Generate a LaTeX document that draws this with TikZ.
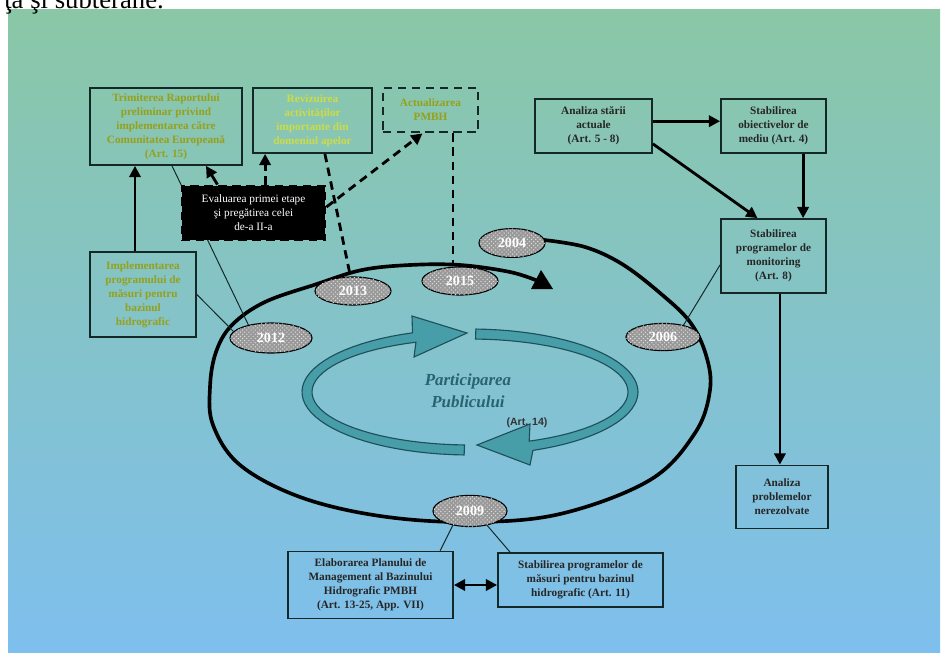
\documentclass[tikz,border=0pt]{standalone}
\usepackage{fontspec}
\setmainfont{Liberation Serif}
\newfontfamily\fontart{Liberation Sans}
\usepackage{tikz}
\usetikzlibrary{arrows.meta, positioning, calc, shapes, patterns}
\definecolor{fondsus}{RGB}{138,199,166}
\definecolor{fondmij}{RGB}{120,194,200}
\definecolor{fondjos}{RGB}{126,191,238}
\definecolor{chenar}{RGB}{20,40,40}
\definecolor{galbui}{RGB}{150,160,25}
\definecolor{galben}{RGB}{205,220,70}
\definecolor{petrol}{RGB}{72,158,168}
\definecolor{petrolinchis}{RGB}{30,80,90}
\definecolor{textpart}{RGB}{40,100,112}
\newcommand{\fontcutie}{\fontsize{8}{10}\selectfont\bfseries}
\tikzset{>={Triangle[length=8pt,width=8pt]},
	cutie/.style={draw=chenar, line width=1.2pt, align=center, font=\fontcutie, text=black!85, inner sep=1pt},
	an/.style={ellipse, draw=black, line width=0.8pt, fill=gray!80, postaction={pattern=crosshatch dots, pattern color=white!75!gray}, inner sep=0pt, font=\fontsize{10}{12}\selectfont\bfseries, text=white},
	gros/.style={line width=2pt},
	punctat/.style={line width=2pt, dash pattern=on 6pt off 4pt},
	subtire/.style={line width=0.7pt, chenar}
}
\begin{document}
\begin{tikzpicture}[x=0.025cm, y=-0.025cm]

	\useasboundingbox (0,0) rectangle (948,657);
	\shade [top color=fondsus, middle color=fondmij, bottom color=fondjos] (8,10) rectangle (940,652);
	\node [anchor=base west, inner sep=0pt, font=\fontsize{19}{19}\selectfont] (titlu) at (4,9) {ţa şi subterane.};

	% ciclul mare
	\draw [line width=2.6pt, line cap=round] plot [smooth, tension=0.6] coordinates {(544,240) (585,247) (622,264) (660,293) (690,322) (706,355) (710,390) (695,433) (650,480) (560,514) (470,522) (380,516) (300,497) (240,465) (213,425) (210,387) (216,352) (232,325) (265,302) (317,284) (362,270) (410,265) (460,265) (510,272) (538,281)};
	\fill (531,289) -- (553,289) -- (541,270) -- cycle;

	% participarea publicului
	\filldraw [fill=petrol, draw=petrolinchis, line width=0.8pt]
		plot [domain=92:250, samples=40] ({470+168*cos(\x)},{392+63*sin(\x)})
		-- (412,316) -- (467,333) -- (414,357)
		-- plot [domain=250:92, samples=40] ({470+158*cos(\x)},{392+53*sin(\x)}) -- cycle;
	\filldraw [fill=petrol, draw=petrolinchis, line width=0.8pt]
		plot [domain=272:428, samples=40] ({470+168*cos(\x)},{392+63*sin(\x)})
		-- (530,465) -- (477,445) -- (530,424)
		-- plot [domain=428:272, samples=40] ({470+158*cos(\x)},{392+53*sin(\x)}) -- cycle;
	\node [align=center, text=textpart, font=\fontsize{12}{15.6}\selectfont\bfseries\itshape] (part) at (468,391) {Participarea\\Publicului};
	\node [text=black!80, font=\fontart\fontsize{7.5}{9}\selectfont\bfseries] (art14) at (527,423) {(Art. 14)};

	% anii
	\node [an, minimum width=1.65cm, minimum height=0.72cm] (y2004) at (512,243) {2004};
	\node [an, minimum width=1.9cm, minimum height=0.7cm] (y2015) at (460,281) {2015};
	\node [an, minimum width=1.9cm, minimum height=0.7cm] (y2013) at (353,291) {2013};
	\node [an, minimum width=2.05cm, minimum height=0.75cm] (y2012) at (271,338) {2012};
	\node [an, minimum width=1.85cm, minimum height=0.68cm] (y2006) at (663,337) {2006};
	\node [an, minimum width=1.85cm, minimum height=0.78cm] (y2009) at (470,511) {2009};

	% casetele din stanga
	\node [cutie, text=galbui, minimum width=3.8cm, minimum height=1.925cm] (trim) at (166,126.5) {Trimiterea Raportului\\preliminar privind\\implementarea către\\Comunitatea Europeană\\(Art. 15)};
	\node [cutie, text=galben, minimum width=2.975cm, minimum height=1.625cm] (rev) at (312.5,120.5) {Revizuirea\\activităţilor\\importante din\\domeniul apelor};
	\node [cutie, punctat, text=galbui, minimum width=2.375cm, minimum height=1.1cm] (act) at (430.5,110) {Actualizarea\\PMBH};
	\node [cutie, text=galbui, minimum width=2.65cm, minimum height=2.125cm] (impl) at (143,294.5) {Implementarea\\programului de\\măsuri pentru\\bazinul\\hidrografic};

	\draw [subtire] ([xshift=0.15cm]trim.south) -- (y2012.150);
	\draw [subtire] (impl.east) -- (y2012.170);

	\node [cutie, punctat, draw=black, fill=black, text=white, font=\fontsize{8}{10}\selectfont, minimum width=3.575cm, minimum height=1.35cm] (eval) at (253.5,213) {Evaluarea primei etape\\şi pregătirea celei\\de-a II-a};

	% casetele din dreapta
	\node [cutie, minimum width=2.925cm, minimum height=1.35cm] (anst) at (593.5,126) {Analiza stării\\actuale\\(Art. 5 - 8)};
	\node [cutie, minimum width=2.625cm, minimum height=1.35cm] (obj) at (773.5,126) {Stabilirea\\obiectivelor de\\mediu (Art. 4)};
	\node [cutie, minimum width=2.625cm, minimum height=1.85cm] (mon) at (773.5,256) {Stabilirea\\programelor de\\monitoring\\(Art. 8)};
	\node [cutie, minimum width=2.3cm, minimum height=1.575cm] (prob) at (782,497) {Analiza\\problemelor\\nerezolvate};

	% casetele de jos
	\node [cutie, minimum width=4.125cm, minimum height=1.675cm] (elab) at (370.5,585) {Elaborarea Planului de\\Management al Bazinului\\Hidrografic PMBH\\(Art. 13-25, App. VII)};
	\node [cutie, minimum width=4.125cm, minimum height=1.35cm] (smas) at (580.5,580) {Stabilirea programelor de\\măsuri pentru bazinul\\hidrografic (Art. 11)};

	% legaturi
	\draw [gros, ->] ([xshift=-0.2cm]impl.north) -- ([xshift=-0.2cm]impl.north |- trim.south);
	\draw [gros, ->] ([xshift=-0.9cm]eval.north) -- ([xshift=1cm]trim.south);
	\draw [punctat, ->] ([xshift=0.29cm]eval.north) -- ([xshift=0.29cm]eval.north |- rev.south);
	\draw [punctat, ->] ([yshift=0.15cm]eval.east) -- ([xshift=-0.2cm]act.south);
	\draw [punctat] ([xshift=0.31cm]rev.south) -- (y2013.100);
	\draw [punctat] ([xshift=0.56cm]act.south) -- ([xshift=0.56cm]act.south |- y2015.north);

	\draw [gros, ->] ([yshift=0.12cm]anst.east) -- ([yshift=0.12cm]anst.east -| obj.west);
	\draw [gros, ->] ([yshift=0.25cm]anst.south east) -- ([xshift=-0.4cm]mon.north);
	\draw [gros, ->] ([xshift=0.74cm]obj.south) -- ([xshift=0.74cm]obj.south |- mon.north);
	\draw [gros, ->] ([xshift=0.16cm]mon.south) -- ([xshift=0.16cm]mon.south |- prob.north);
	\draw [subtire] ([yshift=-0.22cm]mon.west) -- (y2006.30);

	\draw [subtire] (y2009.-140) -- ([xshift=1.74cm]elab.north);
	\draw [subtire] (y2009.-40) -- ([xshift=-1.76cm]smas.north);
	\draw [gros, <->] (elab.east) -- (elab.east -| smas.west);

\end{tikzpicture}
\end{document}
